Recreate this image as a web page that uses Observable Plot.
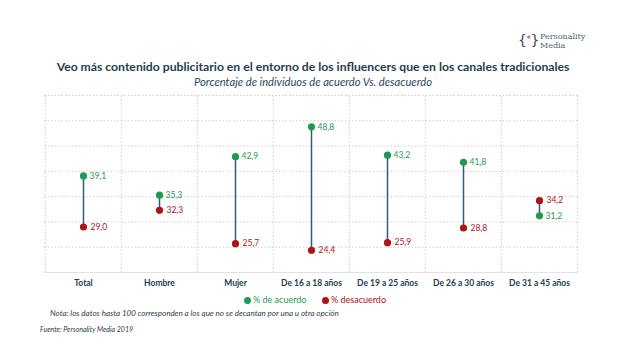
<!DOCTYPE html>
<html>
<head>
<meta charset="utf-8">
<script src="https://cdn.jsdelivr.net/npm/d3@7"></script>
<script src="https://cdn.jsdelivr.net/npm/@observablehq/plot@0.6"></script>
<style>
  html, body { margin: 0; padding: 0; background: #fff; }
  #wrap { position: relative; width: 626px; height: 364px; overflow: hidden; background: #fff; font-family: Lato, "Open Sans", sans-serif; }
  .abs { position: absolute; white-space: nowrap; }
  #title { left: 0; width: 626px; top: 59px; text-align: center; font-weight: 700; font-size: 12.2px; color: #1d3e50; }
  #subtitle { left: 0; width: 626px; top: 75px; text-align: center; font-style: italic; font-size: 11.2px; color: #2a4a60; }
  #mark { position: absolute; left: 518px; top: 33px; font-family: "DejaVu Sans", sans-serif; font-size: 14px; line-height: 1; color: #3a4c5c; letter-spacing: -0.5px; }
  #mark span { color: #c0283a; font-size: 9px; vertical-align: 3px; }
  .lt2 { position: absolute; left: 540px; font-family: "DejaVu Serif", serif; font-size: 8px; line-height: 8px; color: #4f6475; white-space: nowrap; }
  #plot { left: 0; top: 88px; }
  #legend { top: 294px; left: 0; font-size: 9px; }
  .ld { position: absolute; width: 7px; height: 7px; border-radius: 50%; top: 3px; }
  .lt { position: absolute; top: 0; }
  #note { left: 50px; top: 308px; font-style: italic; font-size: 8px; color: #2a4050; }
  #source { left: 40px; top: 325px; font-style: italic; font-size: 7px; color: #2a4050; }
</style>
</head>
<body>
<div id="wrap">
  <div id="mark">{<span>*</span>}</div>
  <div class="lt2" style="top:33px">Personality</div>
  <div class="lt2" style="top:42px">Media</div>
  <div id="title" class="abs">Veo más contenido publicitario en el entorno de los influencers que en los canales tradicionales</div>
  <div id="subtitle" class="abs">Porcentaje de individuos de acuerdo Vs. desacuerdo</div>
  <div id="plot" class="abs"></div>
  <div id="legend" class="abs">
    <span class="ld" style="left:244px;background:#1f9a52"></span><span class="lt" style="left:253px;color:#1f9a52">% de acuerdo</span>
    <span class="ld" style="left:322px;background:#ad1414"></span><span class="lt" style="left:331px;color:#ad1414">% desacuerdo</span>
  </div>
  <div id="note" class="abs">Nota: los datos hasta 100 corresponden a los que no se decantan por una u otra opción</div>
  <div id="source" class="abs">Fuente: Personality Media 2019</div>
</div>
<script>
const categories = ["Total", "Hombre", "Mujer", "De 16 a 18 años", "De 19 a 25 años", "De 26 a 30 años", "De 31 a 45 años"];
const acuerdo = [39.1, 35.3, 42.9, 48.8, 43.2, 41.8, 31.2];
const desacuerdo = [29.0, 32.3, 25.7, 24.4, 25.9, 28.8, 34.2];
const gridValues = [20, 25, 30, 35, 40, 45, 50, 55];

const data = categories.map((c, i) => ({cat: c, a: acuerdo[i], d: desacuerdo[i]}));
const fmt = v => v.toFixed(1).replace(".", ",");

const W = 626, ML = 44, MR = 48;
const bw = (W - ML - MR) / categories.length;
const green = "#1f9a52", red = "#ad1414";

const chart = Plot.plot({
  width: W,
  height: 204,
  marginLeft: ML,
  marginRight: MR,
  marginTop: 7,
  marginBottom: 20,
  style: {fontFamily: "Lato, 'Open Sans', sans-serif", background: "transparent"},
  x: {type: "band", domain: categories, padding: 0, label: null, tickSize: 0, tickPadding: 7},
  y: {domain: [20, 55], axis: null},
  marks: [
    Plot.ruleY(gridValues.filter(v => v > 20), {y: d => d, stroke: "#cfcfcf", strokeWidth: 1, strokeDasharray: "1.5,2"}),
    Plot.ruleY([20], {stroke: "#e2e2e2", strokeWidth: 1}),
    Plot.ruleX(categories, {x: d => d, y1: 20, y2: 55, dx: -bw / 2, stroke: "#cfcfcf", strokeDasharray: "1.5,2"}),
    Plot.ruleX([categories[categories.length - 1]], {x: d => d, y1: 20, y2: 55, dx: bw / 2, stroke: "#cfcfcf", strokeDasharray: "1.5,2"}),
    Plot.ruleX(data, {x: "cat", y1: "a", y2: "d", stroke: "#2e5b7c", strokeWidth: 1.5}),
    Plot.dot(data, {x: "cat", y: "a", r: 3.6, fill: green}),
    Plot.dot(data, {x: "cat", y: "d", r: 3.6, fill: red}),
    Plot.text(data, {x: "cat", y: "a", text: d => fmt(d.a), dx: 6, textAnchor: "start", fill: green, fontSize: 8.5}),
    Plot.text(data, {x: "cat", y: "d", text: d => fmt(d.d), dx: 7, textAnchor: "start", fill: red, fontSize: 8.5})
  ]
});
chart.querySelectorAll('[aria-label="x-axis tick label"] text').forEach(t => {
  t.setAttribute("font-weight", "700");
  t.setAttribute("fill", "#233d54");
  t.setAttribute("font-size", "8.5");
});
document.getElementById("plot").appendChild(chart);
</script>
</body>
</html>
